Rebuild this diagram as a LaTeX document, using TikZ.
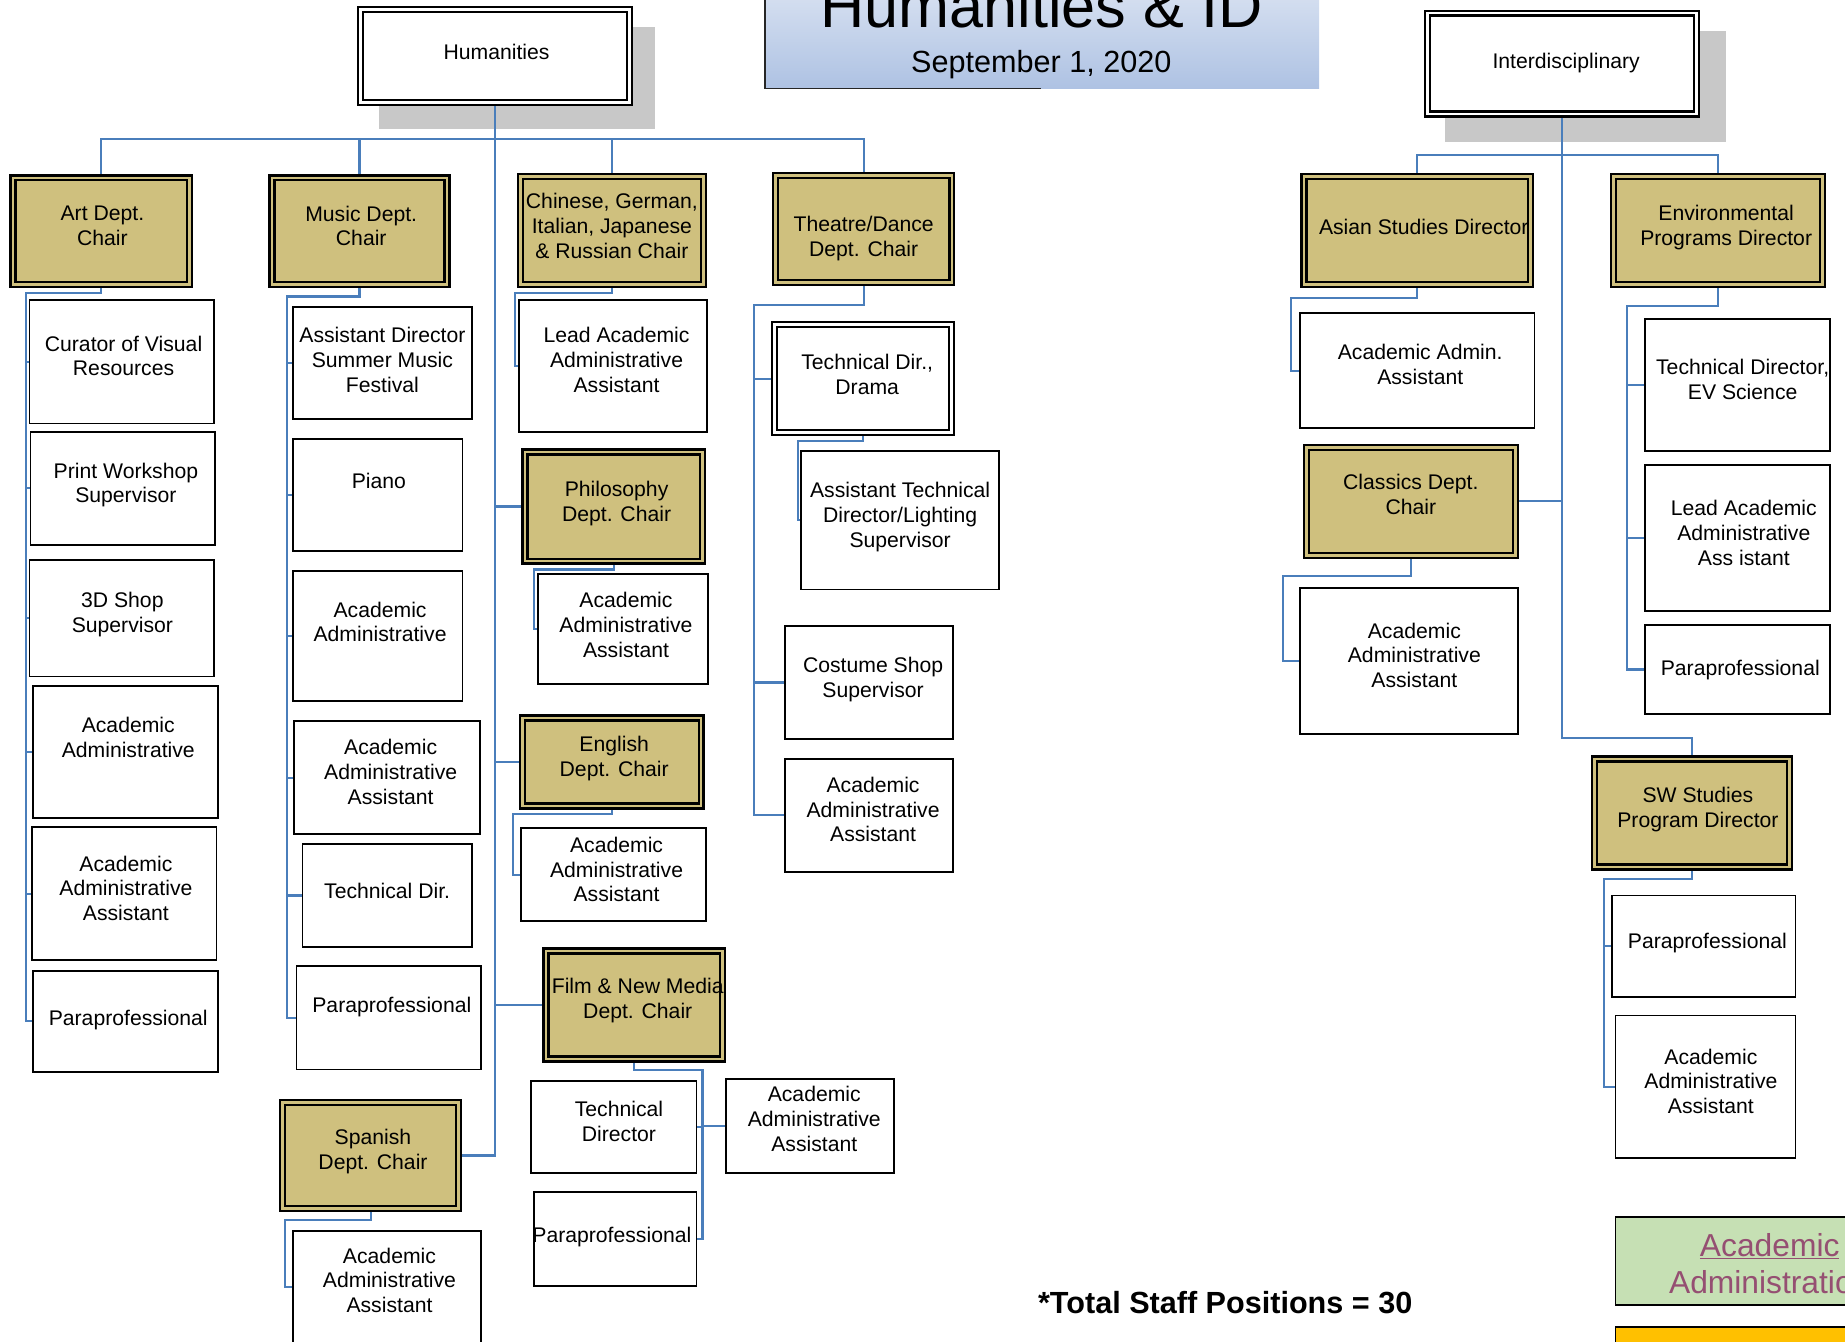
\documentclass[tikz,border=0pt]{standalone}
\usepackage{fontspec}
\setmainfont{Liberation Sans}
\usetikzlibrary{backgrounds}
\definecolor{gold}{RGB}{207,192,126}
\definecolor{linkblue}{RGB}{74,126,187}
\definecolor{shadowgray}{RGB}{200,200,200}
\definecolor{titletop}{RGB}{230,236,246}
\definecolor{titlebot}{RGB}{174,194,227}
\definecolor{leggreen}{RGB}{198,224,180}
\definecolor{legorange}{RGB}{255,192,0}
\definecolor{linkpurple}{RGB}{149,79,114}
\tikzset{
 plainbox/.style={draw=black, line width=1.5pt, fill=white, inner sep=0pt, outer sep=0pt},
 goldbox/.style={draw=black, fill=gold, double=gold, double distance=2.2pt, line width=2pt, inner sep=0pt, outer sep=0pt},
 whitedbl/.style={draw=black, fill=white, double=white, double distance=2.4pt, line width=1.8pt, inner sep=0pt, outer sep=0pt},
 boxtext/.style={align=center, inner sep=0pt, font=\fontsize{18}{21}\selectfont, execute at begin node=\strut, execute at end node=\strut},
 link/.style={draw=linkblue, line width=1.8pt},
}
% plain box: name, x1,y1,x2,y2, text x, text y, text
\newcommand\bx[9][plainbox]{%
 \node[#1, minimum width={(#5-#3)*1pt}, minimum height={(#6-#4)*1pt}] (#2) at ({(#3+#5)/2},{(#4+#6)/2}) {};
 \node[boxtext] (#2-t) at (#7,#8) {#9};}
% double-bordered box (outer extents given)
\newcommand\dbx[9][goldbox]{%
 \node[#1, minimum width={(#5-#3-6.2)*1pt}, minimum height={(#6-#4-6.2)*1pt}] (#2) at ({(#3+#5)/2},{(#4+#6)/2}) {};
 \node[boxtext] (#2-t) at (#7,#8) {#9};}
\begin{document}
\begin{tikzpicture}[x=1pt,y=-1pt]
\useasboundingbox (0,0) rectangle (1568,1140);
% title
\shade[top color=titletop, bottom color=titlebot] (650,-40) rectangle (1121,75);
\draw[line width=1.2pt, black!85] (650,-40) -- (650,75) -- (885,75);
\node[font=\fontsize{52}{60}\selectfont, anchor=base, inner sep=0pt] (title) at (885,23) {Humanities \& ID};
\node[font=\fontsize{26}{30}\selectfont, anchor=base, inner sep=0pt] (date) at (885,62) {September 1, 2020};

\begin{pgfonlayer}{background}
\fill[shadowgray] (322,23) rectangle (557,110);
\fill[shadowgray] (1228,26) rectangle (1467,121);
\end{pgfonlayer}

% top boxes
\dbx[whitedbl]{hum}{303}{5}{538}{90}{422}{46}{Humanities}
\dbx[whitedbl]{int}{1210}{8}{1445}{100}{1331}{54}{Interdisciplinary}

% department chairs
\dbx{a0}{8}{148}{164}{245}{87}{195}{Art Dept.\\Chair}
\dbx{m0}{228}{148}{383}{245}{307}{195}{Music Dept.\\Chair}
\dbx{c0}{439}{147}{601}{245}{520}{195}{Chinese, German,\\Italian, Japanese\\\& Russian Chair}
\dbx{t0}{656}{146}{812}{243}{734}{204}{Theatre/Dance\\Dept. Chair}

% Art
\bx{a1}{25}{255}{182}{360}{105}{305.5}{Curator of Visual\\Resources}
\bx{a2}{26}{367}{183}{463}{107}{413.5}{Print Workshop\\Supervisor}
\bx{a3}{25}{476}{182}{575}{104}{523.5}{3D Shop\\Supervisor}
\bx{a4}{28}{583}{185}{695}{109}{640}{Academic\\Administrative\\\phantom{A}}
\bx{a5}{27}{703}{184}{816}{107}{758}{Academic\\Administrative\\Assistant}
\bx{a6}{28}{825}{185}{911}{109}{867}{Paraprofessional}

% Music
\bx{m1}{249}{261}{401}{356}{325}{309}{Assistant Director\\Summer Music\\Festival}
\bx{m2}{249}{373}{393}{468}{322}{422.5}{Piano\\\phantom{A}}
\bx{m3}{249}{485}{393}{596}{323}{542}{Academic\\Administrative\\\phantom{A}}
\bx{m4}{250}{613}{408}{709}{332}{659}{Academic\\Administrative\\Assistant}
\bx{m5}{257}{717}{401}{805}{329}{759}{Technical Dir.}
\bx{m6}{252}{821}{409}{909}{333}{856}{Paraprofessional}

% Chinese etc.
\bx{c1}{441}{255}{601}{367}{524}{309}{Lead Academic\\Administrative\\Assistant}
\dbx{p0}{443}{381}{600}{480}{524}{429}{Philosophy\\Dept. Chair}
\bx{p1}{457}{488}{602}{581}{532}{534}{Academic\\Administrative\\Assistant}
\dbx{e0}{441}{607}{599}{688}{522}{646}{English\\Dept. Chair}
\bx{e1}{443}{704}{600}{783}{524}{742}{Academic\\Administrative\\Assistant}
\dbx{f0}{461}{805}{617}{903}{542}{851.5}{Film \& New Media\\Dept. Chair}
\bx{f1}{451}{919}{592}{997}{526}{956}{Technical\\Director}
\bx{f2}{617}{917}{760}{997}{692}{954}{Academic\\Administrative\\Assistant}
\bx{f3}{454}{1013}{592}{1093}{520}{1052}{Paraprofessional}
\dbx{s0}{237}{934}{393}{1030}{317}{980}{Spanish\\Dept. Chair}
\bx{s1}{249}{1046}{409}{1142}{331}{1091}{Academic\\Administrative\\Assistant}

% Theatre
\dbx[whitedbl]{t1}{655}{273}{812}{371}{737}{321}{Technical Dir.,\\Drama}
\bx{t2}{681}{383}{849}{501}{765}{440.5}{Assistant Technical\\Director/Lighting\\Supervisor}
\bx{t3}{667}{532}{810}{628}{742}{578.5}{Costume Shop\\Supervisor}
\bx{t4}{667}{645}{810}{741}{742}{691}{Academic\\Administrative\\Assistant}

% Interdisciplinary
\dbx{i1}{1105}{147}{1304}{245}{1210}{195}{Asian Studies Director}
\bx{i1a}{1105}{266}{1304}{364}{1207}{313}{Academic Admin.\\Assistant}
\dbx{i2}{1107}{377}{1291}{475}{1199}{423.5}{Classics Dept.\\Chair}
\bx{i2a}{1105}{500}{1290}{624}{1202}{560}{Academic\\Administrative\\Assistant}
\dbx{i3}{1368}{147}{1552}{245}{1467}{194.5}{Environmental\\Programs Director}
\bx{i3a}{1398}{271}{1555}{383}{1481}{325.5}{Technical Director,\\EV Science}
\bx{i3b}{1398}{395}{1555}{519}{1482}{456}{Lead Academic\\Administrative\\Ass istant}
\bx{i3c}{1398}{531}{1555}{607}{1479}{570}{Paraprofessional}
\dbx{i4}{1352}{642}{1524}{740}{1443}{689.5}{SW Studies\\Program Director}
\bx{i4a}{1370}{761}{1526}{847}{1451}{802}{Paraprofessional}
\bx{i4b}{1373}{863}{1526}{984}{1454}{922}{Academic\\Administrative\\Assistant}

% legend boxes (cut at right edge)
\node[draw=black, line width=1.5pt, fill=leggreen, minimum width=270pt, minimum height=75pt, inner sep=0pt] (leg1) at (1508,1071.5) {};
\node[align=center, font=\fontsize{27}{31.6}\selectfont, text=linkpurple, inner sep=0pt, execute at begin node=\strut, execute at end node=\strut] (leg1-t) at (1504,1078.5) {\underline{Academic}\\Administration};
\node[draw=black, line width=1.5pt, fill=legorange, minimum width=270pt, minimum height=80pt, inner sep=0pt] (leg2) at (1508,1168) {};

\node[anchor=base west, font=\fontsize{26}{30}\selectfont\bfseries, inner sep=0pt] (total) at (882,1116) {*Total Staff Positions = 30};

% connectors
\begin{pgfonlayer}{background}
\coordinate (hbus) at (420.5,118);
\foreach \c in {a0,m0,c0,t0} \draw[link] (hum.south) -- (hbus) -| (\c.north);
\draw[link] (hum.south) |- (p0.west);
\draw[link] (hum.south) |- (e0.west);
\draw[link] (hum.south) |- (f0.west);
\draw[link] (hum.south) |- (s0.east);

\coordinate (abus) at (22,249);
\foreach \c in {a1,a2,a3,a4,a5,a6} \draw[link] (a0.south) |- (abus) |- (\c.west);
\coordinate (mbus) at (244,252);
\foreach \c in {m1,m2,m3,m4,m5,m6} \draw[link] (m0.south) |- (mbus) |- (\c.west);
\coordinate (cbus) at (438,249);
\draw[link] (c0.south) |- (cbus) |- (c1.west);
\coordinate (pbus) at (454,484);
\draw[link] (p0.south) |- (pbus) |- (p1.west);
\coordinate (ebus) at (436,692);
\draw[link] (e0.south) |- (ebus) |- (e1.west);
\coordinate (fbus) at (597,909);
\draw[link] (f0.south) |- (fbus) |- (f2.west);
\draw[link] (f0.south) |- (fbus) |- (f1.east);
\draw[link] (f0.south) |- (fbus) |- (f3.east);
\coordinate (sbus) at (242,1037);
\draw[link] (s0.south) |- (sbus) |- (s1.west);

\coordinate (tbus) at (640.5,259);
\foreach \c in {t1,t3,t4} \draw[link] (t0.south) |- (tbus) |- (\c.west);
\coordinate (t2bus) at (678,375);
\draw[link] (t1.south) |- (t2bus) |- (t2.west);

\coordinate (ibus) at (1327.5,132);
\draw[link] (int.south) -- (ibus) -| (i1.north);
\draw[link] (int.south) -- (ibus) -| (i3.north);
\draw[link] (int.south) |- (i2.east);
\coordinate (swc) at (1327.5,627);
\draw[link] (int.south) -- (swc) -| (i4.north);
\coordinate (i1bus) at (1097,253);
\draw[link] (i1.south) |- (i1bus) |- (i1a.west);
\coordinate (i2bus) at (1090,489.5);
\draw[link] (i2.south) |- (i2bus) |- (i2a.west);
\coordinate (i3bus) at (1383,260);
\foreach \c in {i3a,i3b,i3c} \draw[link] (i3.south) |- (i3bus) |- (\c.west);
\coordinate (i4bus) at (1363,747);
\foreach \c in {i4a,i4b} \draw[link] (i4.south) |- (i4bus) |- (\c.west);
\end{pgfonlayer}
\end{tikzpicture}
\end{document}
